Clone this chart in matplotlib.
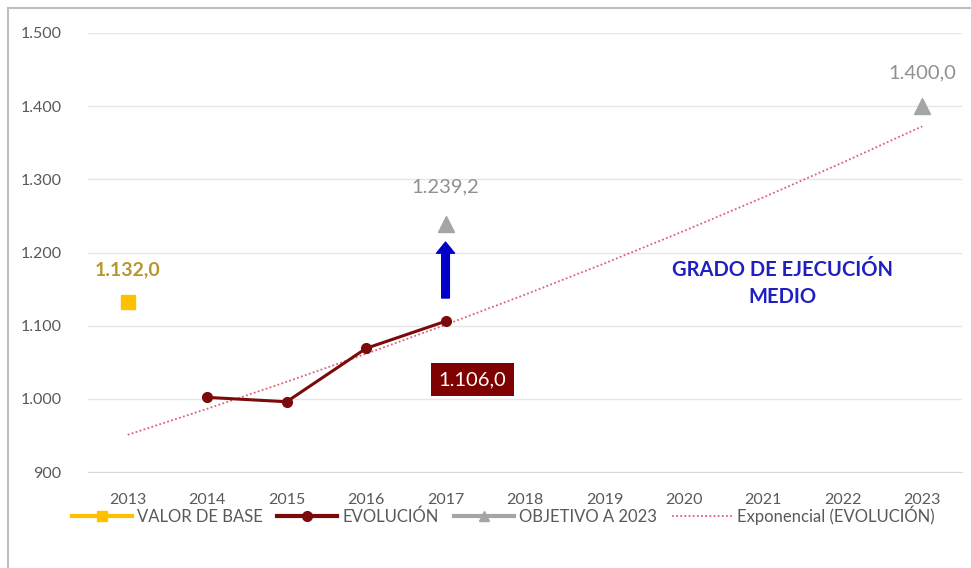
import matplotlib.pyplot as plt
import numpy as np
from matplotlib.lines import Line2D

plt.rcParams['font.family'] = ['Lato', 'DejaVu Sans']

years = [2013, 2014, 2015, 2016, 2017, 2018, 2019, 2020, 2021, 2022, 2023]
base_year = [2013]
base_value = [1132.0]
evol_years = [2014, 2015, 2016, 2017]
evol_values = [1002.0, 996.0, 1069.0, 1106.0]
target_years = [2017, 2023]
target_values = [1239.2, 1400.0]
yticks = [900, 1000, 1100, 1200, 1300, 1400, 1500]

c_base = '#FFC000'
c_evol = '#7B0A0A'
c_target = '#A5A5A5'
c_trend = '#E0607A'
c_text = '#595959'


def fmt(v, dec=0):
    s = f"{v:,.{dec}f}"
    return s.replace(',', 'X').replace('.', ',').replace('X', '.')


fig = plt.figure(figsize=(9.71, 5.68), dpi=100)
ax = fig.add_axes([88 / 971, 1 - 472 / 568, 874 / 971, 439 / 568])

# línea de tendencia exponencial sobre la serie de evolución (índices de categoría)
xi = np.arange(len(evol_values)) + 1
b, a = np.polyfit(xi, np.log(evol_values), 1)
t_idx = np.arange(0, len(years))
trend = np.exp(a + b * t_idx)
ax.plot(years, trend, color=c_trend, lw=1.3, ls=(0, (1, 1.3)), zorder=2)

ax.plot(evol_years, evol_values, color=c_evol, lw=2.2, marker='o', ms=7, zorder=3)
ax.plot(base_year, base_value, ls='none', marker='s', ms=10, color=c_base, zorder=3)
ax.plot(target_years, target_values, ls='none', marker='^', ms=11, color=c_target, zorder=3)

# etiquetas de valores
ax.text(base_year[0], base_value[0] + 44, fmt(base_value[0], 1), color='#B8962E',
        fontsize=14, fontweight='bold', ha='center', va='center')
ax.text(target_years[0], target_values[0] + 51, fmt(target_values[0], 1), color='#909090',
        fontsize=14.5, ha='center', va='center')
ax.text(target_years[1], target_values[1] + 46, fmt(target_values[1], 1), color='#909090',
        fontsize=14.5, ha='center', va='center')
ax.text(2017.34, 1026, fmt(evol_values[-1], 1), color='white', fontsize=14.5,
        ha='center', va='center',
        bbox=dict(boxstyle='square,pad=0.4', fc='#7F0000', ec='none'))

# flecha hacia el objetivo
ax.annotate('', xy=(2017, 1218), xytext=(2017, 1134),
            arrowprops=dict(arrowstyle='simple,head_width=1.3,head_length=0.8,tail_width=0.55',
                            fc='#0000C8', ec='#0000C8'))

ax.text(2021.24, 1158, 'GRADO DE EJECUCIÓN\nMEDIO', color='#2020C0', fontsize=14.5,
        fontweight='bold', ha='center', va='center', linespacing=1.45)

ax.set_xlim(2012.5, 2023.5)
ax.set_ylim(900, 1500)
ax.set_xticks(years)
ax.set_yticks(yticks)
ax.set_yticklabels([fmt(v) for v in yticks])
ax.tick_params(axis='both', length=0, colors=c_text, labelsize=11.5)
ax.tick_params(axis='x', pad=15)
ax.tick_params(axis='y', pad=19)
ax.grid(axis='y', color='#E6E6E6', lw=1)
ax.set_axisbelow(True)
for side in ['top', 'right', 'left']:
    ax.spines[side].set_visible(False)
ax.spines['bottom'].set_color('#D9D9D9')

handles = [
    Line2D([], [], color=c_base, lw=3, marker='s', ms=7),
    Line2D([], [], color=c_evol, lw=3, marker='o', ms=7),
    Line2D([], [], color=c_target, lw=3, marker='^', ms=7),
    Line2D([], [], color=c_trend, lw=1.3, ls=(0, (1, 1.3))),
]
labels = ['VALOR DE BASE', 'EVOLUCIÓN', 'OBJETIVO A 2023', 'Exponencial (EVOLUCIÓN)']
fig.legend(handles, labels, loc='center', bbox_to_anchor=(0.518, 1 - 515 / 568), ncol=4,
           frameon=False, fontsize=12, handlelength=3.6, handletextpad=0.3,
           columnspacing=0.9, labelcolor=c_text)

# marco del gráfico
fig.add_artist(Line2D([8 / 971, 1], [1 - 8 / 568] * 2, color='#BFBFBF', lw=1.5,
                      transform=fig.transFigure))
fig.add_artist(Line2D([8 / 971] * 2, [0, 1 - 8 / 568], color='#BFBFBF', lw=1.5,
                      transform=fig.transFigure))

fig.savefig('out.png', dpi=100)
